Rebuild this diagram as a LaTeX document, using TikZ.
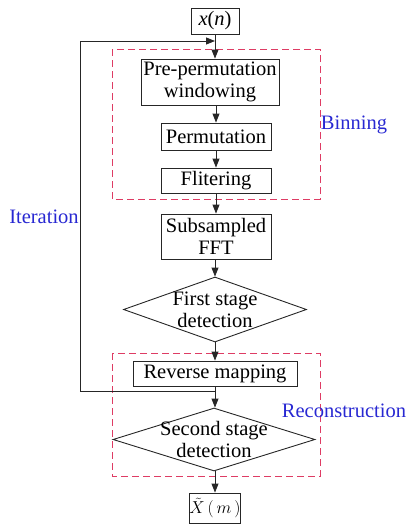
\documentclass[tikz,border=0pt]{standalone}
\usepackage{fontspec}
\setmainfont{Liberation Serif}
\usetikzlibrary{shapes.geometric,arrows.meta}
\definecolor{dashred}{RGB}{222,60,100}
\definecolor{lblue}{RGB}{40,40,210}
\tikzset{
  box/.style={draw=black!85, line width=0.9pt, inner sep=0pt, align=center,
    font=\fontsize{20.5}{22}\selectfont},
  dia/.style={draw=black!85, line width=0.9pt, diamond, inner sep=0pt},
  diatext/.style={align=center, font=\fontsize{20.5}{22}\selectfont},
  arr/.style={draw=black!85, line width=0.9pt, -{Triangle[length=9pt,width=7pt]}},
  dashbox/.style={draw=dashred, line width=0.9pt, dash pattern=on 7pt off 4pt},
  lbl/.style={text=lblue, font=\fontsize{20.5}{22}\selectfont}
}
\begin{document}
\begin{tikzpicture}[x=1pt,y=-1pt]
\useasboundingbox (0,0) rectangle (407,525);
% dashed groups
\draw[dashbox] (112,49) rectangle (320,199);
\draw[dashbox] (112,353) rectangle (320,476);
% nodes
\node[box, minimum width=48pt, minimum height=26pt] (xn) at (215,21) {\textit{x}(\textit{n})};
\node[box, minimum width=138pt, minimum height=46pt] (pre) at (210,82) {Pre-permutation\\windowing};
\node[box, minimum width=110pt, minimum height=27pt] (perm) at (216,136.5) {Permutation};
\node[box, minimum width=110pt, minimum height=25pt] (filt) at (216,180.5) {Flitering};
\node[box, minimum width=110pt, minimum height=45pt] (fft) at (216,236.5) {Subsampled\\FFT};
\node[dia, minimum width=183pt, minimum height=65pt] (d1) at (215,309.5) {};
\node[diatext] at (d1.center) {First stage\\detection};
\node[box, minimum width=164pt, minimum height=25pt] (rev) at (215,373.5) {Reverse mapping};
\node[dia, minimum width=202pt, minimum height=63pt] (d2) at (214,439.5) {};
\node[diatext] at (d2.center) {Second stage\\detection};
\node[box, minimum width=48pt, minimum height=30pt, font=\fontsize{17}{20}\selectfont] (xm) at (215,508) {$\tilde{X}\,(\,m\,)$};
% labels
\node[lbl] (lb1) at (354,125) {Binning};
\node[lbl] (lb2) at (44,217) {Iteration};
\node[lbl] (lb3) at (344,411) {Reconstruction};
% connectors
\draw[arr] (xn.south) -- (pre.north -| xn.south);
\draw[arr] (pre.south -| perm.north) -- (perm.north);
\draw[arr] (perm.south) -- (filt.north);
\draw[arr] (filt.south) -- (fft.north);
\draw[arr] (fft.south -| d1.north) -- (d1.north);
\draw[arr] (d1.south) -- (rev.north -| d1.south);
\draw[arr] (rev.south) -- (d2.north -| rev.south);
\draw[arr] (d2.south -| xm.north) -- (xm.north);
% iteration loop
\coordinate (j) at (215,391);
\coordinate (lb) at (80,391);
\coordinate (lt) at (80,41);
\coordinate (jt) at (215,41);
\draw[arr] (j) -- (lb) -- (lt) -- (jt);
\end{tikzpicture}
\end{document}
